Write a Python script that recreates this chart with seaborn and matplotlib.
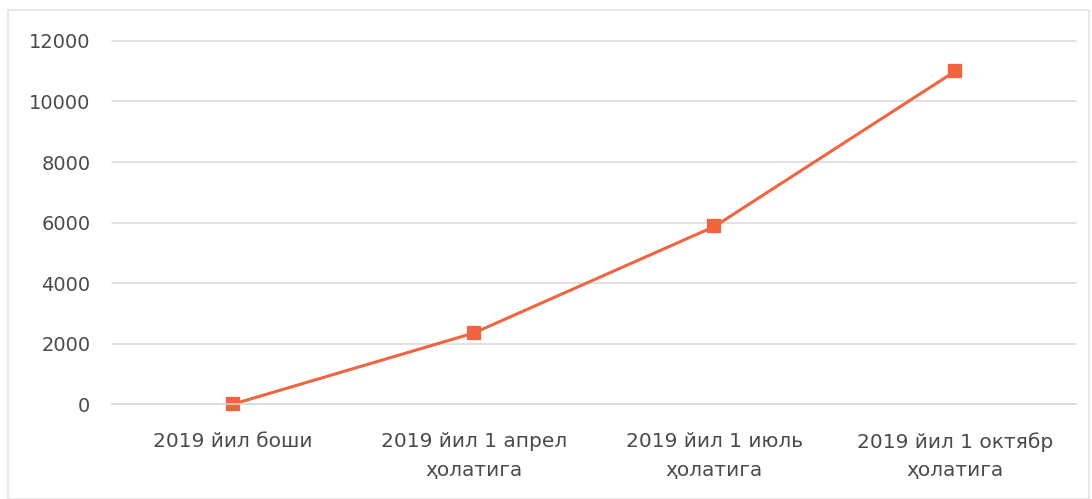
import matplotlib
matplotlib.use("Agg")
import matplotlib.pyplot as plt
import seaborn as sns
import pandas as pd
from matplotlib.patches import Rectangle

# data
categories = ["2019 йил боши", "2019 йил 1 апрел\nҳолатига",
              "2019 йил 1 июль\nҳолатига", "2019 йил 1 октябр\nҳолатига"]
values = [0, 2350, 5870, 11000]
y_ticks = [0, 2000, 4000, 6000, 8000, 10000, 12000]

LINE_COLOR = "#F0653F"
TEXT_COLOR = "#4A4A4A"
GRID_COLOR = "#D9D9D9"

sns.set_style("white")
plt.rcParams["font.family"] = ["DejaVu Sans"]

df = pd.DataFrame({"period": categories, "value": values})

fig = plt.figure(figsize=(10.92, 4.99), dpi=100)
ax = fig.add_axes([0.103, 0.19, 0.882, 0.728])

sns.pointplot(data=df, x="period", y="value", order=categories,
              color=LINE_COLOR, markers="s", linestyles="-",
              errorbar=None, ax=ax, markersize=8, linewidth=2.2)
for artist in ax.lines + ax.collections:
    artist.set_clip_on(False)

ax.set_xlim(-0.5, len(categories) - 0.5)
ax.set_ylim(0, 12000)
ax.set_yticks(y_ticks)
ax.set_yticklabels([str(v) for v in y_ticks])
ax.yaxis.grid(True, color=GRID_COLOR, linewidth=1.1)
for gl in ax.get_ygridlines():
    gl.set_clip_on(False)
ax.set_axisbelow(True)
ax.set_xlabel("")
ax.set_ylabel("")

for side in ["top", "right", "left"]:
    ax.spines[side].set_visible(False)
ax.spines["bottom"].set_color(GRID_COLOR)
ax.spines["bottom"].set_linewidth(1.1)

# Excel style: tick marks between categories, none on the labels
ax.tick_params(axis="x", which="major", length=0, pad=20, labelsize=14.5, colors=TEXT_COLOR)
for lbl in ax.get_xticklabels():
    lbl.set_linespacing(1.65)
ax.set_xticks([i - 0.5 for i in range(len(categories) + 1)], minor=True)
ax.tick_params(axis="x", which="minor", length=6, color=GRID_COLOR, width=1.1)
ax.tick_params(axis="y", length=0, pad=16, labelsize=14, colors=TEXT_COLOR)

# light chart frame
fig.patches.append(Rectangle((0.007, 0.0), 0.99, 0.98, transform=fig.transFigure,
                             fill=False, edgecolor="#E3E3E3", linewidth=1.2))

fig.savefig("out.png", dpi=100)
